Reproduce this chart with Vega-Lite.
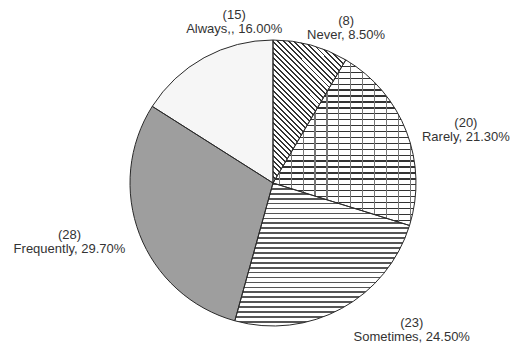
{
  "$schema": "https://vega.github.io/schema/vega-lite/v6.json",
  "width": 482,
  "height": 324,
  "autosize": "none",
  "padding": {"left": 32, "top": 21, "right": 0, "bottom": 0},
  "background": "white",
  "config": {"view": {"stroke": null}},
  "data": {
    "values": [
      {"answer": "Never", "n": 8, "pct": 8.5, "ord": 1},
      {"answer": "Rarely", "n": 20, "pct": 21.3, "ord": 2},
      {"answer": "Sometimes", "n": 23, "pct": 24.5, "ord": 3},
      {"answer": "Frequently", "n": 28, "pct": 29.7, "ord": 4},
      {"answer": "Always,", "n": 15, "pct": 16.0, "ord": 5}
    ]
  },
  "transform": [
    {"calculate": "'(' + datum.n + ')\\n' + datum.answer + ', ' + format(datum.pct, '.2f') + '%'", "as": "label"}
  ],
  "encoding": {
    "theta": {"field": "pct", "type": "quantitative", "stack": true},
    "order": {"field": "ord", "type": "quantitative"}
  },
  "layer": [
    {
      "mark": {"type": "arc", "outerRadius": 143, "strokeWidth": 0},
      "encoding": {
        "fill": {
          "field": "answer",
          "type": "nominal",
          "scale": {
            "domain": ["Never", "Rarely", "Sometimes", "Frequently", "Always,"],
            "range": ["#ffffff", "#ffffff", "#ffffff", "#9e9e9e", "#f6f6f6"]
          },
          "legend": null
        }
      }
    },
    {
      "mark": {"type": "arc", "outerRadius": 143, "strokeWidth": 0},
      "encoding": {
        "fill": {
          "condition": {
            "test": "datum.answer === 'Never'",
            "value": {
              "gradient": "linear", "x1": 0, "y1": 1, "x2": 0.611, "y2": -0.198,
              "stops": [
                {"offset": 0, "color": "#333"}, {"offset": 0.009, "color": "#333"}, {"offset": 0.009, "color": "#fff"}, {"offset": 0.025, "color": "#fff"},
                {"offset": 0.025, "color": "#333"}, {"offset": 0.034, "color": "#333"}, {"offset": 0.034, "color": "#fff"}, {"offset": 0.05, "color": "#fff"},
                {"offset": 0.05, "color": "#333"}, {"offset": 0.059, "color": "#333"}, {"offset": 0.059, "color": "#fff"}, {"offset": 0.075, "color": "#fff"},
                {"offset": 0.075, "color": "#333"}, {"offset": 0.084, "color": "#333"}, {"offset": 0.084, "color": "#fff"}, {"offset": 0.1, "color": "#fff"},
                {"offset": 0.1, "color": "#333"}, {"offset": 0.109, "color": "#333"}, {"offset": 0.109, "color": "#fff"}, {"offset": 0.125, "color": "#fff"},
                {"offset": 0.125, "color": "#333"}, {"offset": 0.134, "color": "#333"}, {"offset": 0.134, "color": "#fff"}, {"offset": 0.15, "color": "#fff"},
                {"offset": 0.15, "color": "#333"}, {"offset": 0.159, "color": "#333"}, {"offset": 0.159, "color": "#fff"}, {"offset": 0.175, "color": "#fff"},
                {"offset": 0.175, "color": "#333"}, {"offset": 0.184, "color": "#333"}, {"offset": 0.184, "color": "#fff"}, {"offset": 0.2, "color": "#fff"},
                {"offset": 0.2, "color": "#333"}, {"offset": 0.209, "color": "#333"}, {"offset": 0.209, "color": "#fff"}, {"offset": 0.225, "color": "#fff"},
                {"offset": 0.225, "color": "#333"}, {"offset": 0.234, "color": "#333"}, {"offset": 0.234, "color": "#fff"}, {"offset": 0.25, "color": "#fff"},
                {"offset": 0.25, "color": "#333"}, {"offset": 0.259, "color": "#333"}, {"offset": 0.259, "color": "#fff"}, {"offset": 0.275, "color": "#fff"},
                {"offset": 0.275, "color": "#333"}, {"offset": 0.284, "color": "#333"}, {"offset": 0.284, "color": "#fff"}, {"offset": 0.3, "color": "#fff"},
                {"offset": 0.3, "color": "#333"}, {"offset": 0.309, "color": "#333"}, {"offset": 0.309, "color": "#fff"}, {"offset": 0.325, "color": "#fff"},
                {"offset": 0.325, "color": "#333"}, {"offset": 0.334, "color": "#333"}, {"offset": 0.334, "color": "#fff"}, {"offset": 0.35, "color": "#fff"},
                {"offset": 0.35, "color": "#333"}, {"offset": 0.359, "color": "#333"}, {"offset": 0.359, "color": "#fff"}, {"offset": 0.375, "color": "#fff"},
                {"offset": 0.375, "color": "#333"}, {"offset": 0.384, "color": "#333"}, {"offset": 0.384, "color": "#fff"}, {"offset": 0.4, "color": "#fff"},
                {"offset": 0.4, "color": "#333"}, {"offset": 0.409, "color": "#333"}, {"offset": 0.409, "color": "#fff"}, {"offset": 0.425, "color": "#fff"},
                {"offset": 0.425, "color": "#333"}, {"offset": 0.434, "color": "#333"}, {"offset": 0.434, "color": "#fff"}, {"offset": 0.45, "color": "#fff"},
                {"offset": 0.45, "color": "#333"}, {"offset": 0.459, "color": "#333"}, {"offset": 0.459, "color": "#fff"}, {"offset": 0.475, "color": "#fff"},
                {"offset": 0.475, "color": "#333"}, {"offset": 0.484, "color": "#333"}, {"offset": 0.484, "color": "#fff"}, {"offset": 0.5, "color": "#fff"},
                {"offset": 0.5, "color": "#333"}, {"offset": 0.509, "color": "#333"}, {"offset": 0.509, "color": "#fff"}, {"offset": 0.525, "color": "#fff"},
                {"offset": 0.525, "color": "#333"}, {"offset": 0.534, "color": "#333"}, {"offset": 0.534, "color": "#fff"}, {"offset": 0.55, "color": "#fff"},
                {"offset": 0.55, "color": "#333"}, {"offset": 0.559, "color": "#333"}, {"offset": 0.559, "color": "#fff"}, {"offset": 0.575, "color": "#fff"},
                {"offset": 0.575, "color": "#333"}, {"offset": 0.584, "color": "#333"}, {"offset": 0.584, "color": "#fff"}, {"offset": 0.6, "color": "#fff"},
                {"offset": 0.6, "color": "#333"}, {"offset": 0.609, "color": "#333"}, {"offset": 0.609, "color": "#fff"}, {"offset": 0.625, "color": "#fff"},
                {"offset": 0.625, "color": "#333"}, {"offset": 0.634, "color": "#333"}, {"offset": 0.634, "color": "#fff"}, {"offset": 0.65, "color": "#fff"},
                {"offset": 0.65, "color": "#333"}, {"offset": 0.659, "color": "#333"}, {"offset": 0.659, "color": "#fff"}, {"offset": 0.675, "color": "#fff"},
                {"offset": 0.675, "color": "#333"}, {"offset": 0.684, "color": "#333"}, {"offset": 0.684, "color": "#fff"}, {"offset": 0.7, "color": "#fff"},
                {"offset": 0.7, "color": "#333"}, {"offset": 0.709, "color": "#333"}, {"offset": 0.709, "color": "#fff"}, {"offset": 0.725, "color": "#fff"},
                {"offset": 0.725, "color": "#333"}, {"offset": 0.734, "color": "#333"}, {"offset": 0.734, "color": "#fff"}, {"offset": 0.75, "color": "#fff"},
                {"offset": 0.75, "color": "#333"}, {"offset": 0.759, "color": "#333"}, {"offset": 0.759, "color": "#fff"}, {"offset": 0.775, "color": "#fff"},
                {"offset": 0.775, "color": "#333"}, {"offset": 0.784, "color": "#333"}, {"offset": 0.784, "color": "#fff"}, {"offset": 0.8, "color": "#fff"},
                {"offset": 0.8, "color": "#333"}, {"offset": 0.809, "color": "#333"}, {"offset": 0.809, "color": "#fff"}, {"offset": 0.825, "color": "#fff"},
                {"offset": 0.825, "color": "#333"}, {"offset": 0.834, "color": "#333"}, {"offset": 0.834, "color": "#fff"}, {"offset": 0.85, "color": "#fff"},
                {"offset": 0.85, "color": "#333"}, {"offset": 0.859, "color": "#333"}, {"offset": 0.859, "color": "#fff"}, {"offset": 0.875, "color": "#fff"},
                {"offset": 0.875, "color": "#333"}, {"offset": 0.884, "color": "#333"}, {"offset": 0.884, "color": "#fff"}, {"offset": 0.9, "color": "#fff"},
                {"offset": 0.9, "color": "#333"}, {"offset": 0.909, "color": "#333"}, {"offset": 0.909, "color": "#fff"}, {"offset": 0.925, "color": "#fff"},
                {"offset": 0.925, "color": "#333"}, {"offset": 0.934, "color": "#333"}, {"offset": 0.934, "color": "#fff"}, {"offset": 0.95, "color": "#fff"},
                {"offset": 0.95, "color": "#333"}, {"offset": 0.959, "color": "#333"}, {"offset": 0.959, "color": "#fff"}, {"offset": 0.975, "color": "#fff"},
                {"offset": 0.975, "color": "#333"}, {"offset": 0.984, "color": "#333"}, {"offset": 0.984, "color": "#fff"}, {"offset": 1, "color": "#fff"}
              ]
            }
          },
          "value": "transparent"
        }
      }
    },
    {
      "mark": {"type": "arc", "outerRadius": 143, "strokeWidth": 0},
      "encoding": {
        "fill": {
          "condition": {
            "test": "datum.answer === 'Rarely'",
            "value": {
              "gradient": "linear", "x1": 0, "y1": 0, "x2": 0, "y2": 1,
              "stops": [
                {"offset": 0, "color": "#333"}, {"offset": 0.008, "color": "#333"}, {"offset": 0.008, "color": "#fff"}, {"offset": 0.0357, "color": "#fff"},
                {"offset": 0.0357, "color": "#333"}, {"offset": 0.0437, "color": "#333"}, {"offset": 0.0437, "color": "#fff"}, {"offset": 0.0714, "color": "#fff"},
                {"offset": 0.0714, "color": "#333"}, {"offset": 0.0794, "color": "#333"}, {"offset": 0.0794, "color": "#fff"}, {"offset": 0.1071, "color": "#fff"},
                {"offset": 0.1071, "color": "#333"}, {"offset": 0.1151, "color": "#333"}, {"offset": 0.1151, "color": "#fff"}, {"offset": 0.1429, "color": "#fff"},
                {"offset": 0.1429, "color": "#333"}, {"offset": 0.1509, "color": "#333"}, {"offset": 0.1509, "color": "#fff"}, {"offset": 0.1786, "color": "#fff"},
                {"offset": 0.1786, "color": "#333"}, {"offset": 0.1866, "color": "#333"}, {"offset": 0.1866, "color": "#fff"}, {"offset": 0.2143, "color": "#fff"},
                {"offset": 0.2143, "color": "#333"}, {"offset": 0.2223, "color": "#333"}, {"offset": 0.2223, "color": "#fff"}, {"offset": 0.25, "color": "#fff"},
                {"offset": 0.25, "color": "#333"}, {"offset": 0.258, "color": "#333"}, {"offset": 0.258, "color": "#fff"}, {"offset": 0.2857, "color": "#fff"},
                {"offset": 0.2857, "color": "#333"}, {"offset": 0.2937, "color": "#333"}, {"offset": 0.2937, "color": "#fff"}, {"offset": 0.3214, "color": "#fff"},
                {"offset": 0.3214, "color": "#333"}, {"offset": 0.3294, "color": "#333"}, {"offset": 0.3294, "color": "#fff"}, {"offset": 0.3571, "color": "#fff"},
                {"offset": 0.3571, "color": "#333"}, {"offset": 0.3651, "color": "#333"}, {"offset": 0.3651, "color": "#fff"}, {"offset": 0.3929, "color": "#fff"},
                {"offset": 0.3929, "color": "#333"}, {"offset": 0.4009, "color": "#333"}, {"offset": 0.4009, "color": "#fff"}, {"offset": 0.4286, "color": "#fff"},
                {"offset": 0.4286, "color": "#333"}, {"offset": 0.4366, "color": "#333"}, {"offset": 0.4366, "color": "#fff"}, {"offset": 0.4643, "color": "#fff"},
                {"offset": 0.4643, "color": "#333"}, {"offset": 0.4723, "color": "#333"}, {"offset": 0.4723, "color": "#fff"}, {"offset": 0.5, "color": "#fff"},
                {"offset": 0.5, "color": "#333"}, {"offset": 0.508, "color": "#333"}, {"offset": 0.508, "color": "#fff"}, {"offset": 0.5357, "color": "#fff"},
                {"offset": 0.5357, "color": "#333"}, {"offset": 0.5437, "color": "#333"}, {"offset": 0.5437, "color": "#fff"}, {"offset": 0.5714, "color": "#fff"},
                {"offset": 0.5714, "color": "#333"}, {"offset": 0.5794, "color": "#333"}, {"offset": 0.5794, "color": "#fff"}, {"offset": 0.6071, "color": "#fff"},
                {"offset": 0.6071, "color": "#333"}, {"offset": 0.6151, "color": "#333"}, {"offset": 0.6151, "color": "#fff"}, {"offset": 0.6429, "color": "#fff"},
                {"offset": 0.6429, "color": "#333"}, {"offset": 0.6509, "color": "#333"}, {"offset": 0.6509, "color": "#fff"}, {"offset": 0.6786, "color": "#fff"},
                {"offset": 0.6786, "color": "#333"}, {"offset": 0.6866, "color": "#333"}, {"offset": 0.6866, "color": "#fff"}, {"offset": 0.7143, "color": "#fff"},
                {"offset": 0.7143, "color": "#333"}, {"offset": 0.7223, "color": "#333"}, {"offset": 0.7223, "color": "#fff"}, {"offset": 0.75, "color": "#fff"},
                {"offset": 0.75, "color": "#333"}, {"offset": 0.758, "color": "#333"}, {"offset": 0.758, "color": "#fff"}, {"offset": 0.7857, "color": "#fff"},
                {"offset": 0.7857, "color": "#333"}, {"offset": 0.7937, "color": "#333"}, {"offset": 0.7937, "color": "#fff"}, {"offset": 0.8214, "color": "#fff"},
                {"offset": 0.8214, "color": "#333"}, {"offset": 0.8294, "color": "#333"}, {"offset": 0.8294, "color": "#fff"}, {"offset": 0.8571, "color": "#fff"},
                {"offset": 0.8571, "color": "#333"}, {"offset": 0.8651, "color": "#333"}, {"offset": 0.8651, "color": "#fff"}, {"offset": 0.8929, "color": "#fff"},
                {"offset": 0.8929, "color": "#333"}, {"offset": 0.9009, "color": "#333"}, {"offset": 0.9009, "color": "#fff"}, {"offset": 0.9286, "color": "#fff"},
                {"offset": 0.9286, "color": "#333"}, {"offset": 0.9366, "color": "#333"}, {"offset": 0.9366, "color": "#fff"}, {"offset": 0.9643, "color": "#fff"},
                {"offset": 0.9643, "color": "#333"}, {"offset": 0.9723, "color": "#333"}, {"offset": 0.9723, "color": "#fff"}, {"offset": 1, "color": "#fff"}
              ]
            }
          },
          "value": "transparent"
        }
      }
    },
    {
      "mark": {"type": "arc", "outerRadius": 143, "strokeWidth": 0},
      "encoding": {
        "fill": {
          "condition": {
            "test": "datum.answer === 'Rarely'",
            "value": {
              "gradient": "linear", "x1": 0, "y1": 0, "x2": 1, "y2": 0,
              "stops": [
                {"offset": 0, "color": "rgba(0,0,0,0)"},
                {"offset": 0.04, "color": "rgba(0,0,0,0)"}, {"offset": 0.04, "color": "#777"}, {"offset": 0.048, "color": "#777"}, {"offset": 0.048, "color": "rgba(0,0,0,0)"},
                {"offset": 0.1233, "color": "rgba(0,0,0,0)"}, {"offset": 0.1233, "color": "#777"}, {"offset": 0.1313, "color": "#777"}, {"offset": 0.1313, "color": "rgba(0,0,0,0)"},
                {"offset": 0.2067, "color": "rgba(0,0,0,0)"}, {"offset": 0.2067, "color": "#777"}, {"offset": 0.2147, "color": "#777"}, {"offset": 0.2147, "color": "rgba(0,0,0,0)"},
                {"offset": 0.29, "color": "rgba(0,0,0,0)"}, {"offset": 0.29, "color": "#777"}, {"offset": 0.298, "color": "#777"}, {"offset": 0.298, "color": "rgba(0,0,0,0)"},
                {"offset": 0.3733, "color": "rgba(0,0,0,0)"}, {"offset": 0.3733, "color": "#777"}, {"offset": 0.3813, "color": "#777"}, {"offset": 0.3813, "color": "rgba(0,0,0,0)"},
                {"offset": 0.4567, "color": "rgba(0,0,0,0)"}, {"offset": 0.4567, "color": "#777"}, {"offset": 0.4647, "color": "#777"}, {"offset": 0.4647, "color": "rgba(0,0,0,0)"},
                {"offset": 0.54, "color": "rgba(0,0,0,0)"}, {"offset": 0.54, "color": "#777"}, {"offset": 0.548, "color": "#777"}, {"offset": 0.548, "color": "rgba(0,0,0,0)"},
                {"offset": 0.6233, "color": "rgba(0,0,0,0)"}, {"offset": 0.6233, "color": "#777"}, {"offset": 0.6313, "color": "#777"}, {"offset": 0.6313, "color": "rgba(0,0,0,0)"},
                {"offset": 0.7067, "color": "rgba(0,0,0,0)"}, {"offset": 0.7067, "color": "#777"}, {"offset": 0.7147, "color": "#777"}, {"offset": 0.7147, "color": "rgba(0,0,0,0)"},
                {"offset": 0.79, "color": "rgba(0,0,0,0)"}, {"offset": 0.79, "color": "#777"}, {"offset": 0.798, "color": "#777"}, {"offset": 0.798, "color": "rgba(0,0,0,0)"},
                {"offset": 0.8733, "color": "rgba(0,0,0,0)"}, {"offset": 0.8733, "color": "#777"}, {"offset": 0.8813, "color": "#777"}, {"offset": 0.8813, "color": "rgba(0,0,0,0)"},
                {"offset": 0.9567, "color": "rgba(0,0,0,0)"}, {"offset": 0.9567, "color": "#777"}, {"offset": 0.9647, "color": "#777"}, {"offset": 0.9647, "color": "rgba(0,0,0,0)"},
                {"offset": 1, "color": "rgba(0,0,0,0)"}
              ]
            }
          },
          "value": "transparent"
        }
      }
    },
    {
      "mark": {"type": "arc", "outerRadius": 143, "strokeWidth": 0},
      "encoding": {
        "fill": {
          "condition": {
            "test": "datum.answer === 'Sometimes'",
            "value": {
              "gradient": "linear", "x1": 0, "y1": 0, "x2": 0, "y2": 1,
              "stops": [
                {"offset": 0, "color": "#555"}, {"offset": 0.012, "color": "#555"}, {"offset": 0.012, "color": "#fff"}, {"offset": 0.0345, "color": "#fff"},
                {"offset": 0.0345, "color": "#555"}, {"offset": 0.0465, "color": "#555"}, {"offset": 0.0465, "color": "#fff"}, {"offset": 0.069, "color": "#fff"},
                {"offset": 0.069, "color": "#555"}, {"offset": 0.081, "color": "#555"}, {"offset": 0.081, "color": "#fff"}, {"offset": 0.1034, "color": "#fff"},
                {"offset": 0.1034, "color": "#555"}, {"offset": 0.1154, "color": "#555"}, {"offset": 0.1154, "color": "#fff"}, {"offset": 0.1379, "color": "#fff"},
                {"offset": 0.1379, "color": "#555"}, {"offset": 0.1499, "color": "#555"}, {"offset": 0.1499, "color": "#fff"}, {"offset": 0.1724, "color": "#fff"},
                {"offset": 0.1724, "color": "#555"}, {"offset": 0.1844, "color": "#555"}, {"offset": 0.1844, "color": "#fff"}, {"offset": 0.2069, "color": "#fff"},
                {"offset": 0.2069, "color": "#555"}, {"offset": 0.2189, "color": "#555"}, {"offset": 0.2189, "color": "#fff"}, {"offset": 0.2414, "color": "#fff"},
                {"offset": 0.2414, "color": "#555"}, {"offset": 0.2534, "color": "#555"}, {"offset": 0.2534, "color": "#fff"}, {"offset": 0.2759, "color": "#fff"},
                {"offset": 0.2759, "color": "#555"}, {"offset": 0.2879, "color": "#555"}, {"offset": 0.2879, "color": "#fff"}, {"offset": 0.3103, "color": "#fff"},
                {"offset": 0.3103, "color": "#555"}, {"offset": 0.3223, "color": "#555"}, {"offset": 0.3223, "color": "#fff"}, {"offset": 0.3448, "color": "#fff"},
                {"offset": 0.3448, "color": "#555"}, {"offset": 0.3568, "color": "#555"}, {"offset": 0.3568, "color": "#fff"}, {"offset": 0.3793, "color": "#fff"},
                {"offset": 0.3793, "color": "#555"}, {"offset": 0.3913, "color": "#555"}, {"offset": 0.3913, "color": "#fff"}, {"offset": 0.4138, "color": "#fff"},
                {"offset": 0.4138, "color": "#555"}, {"offset": 0.4258, "color": "#555"}, {"offset": 0.4258, "color": "#fff"}, {"offset": 0.4483, "color": "#fff"},
                {"offset": 0.4483, "color": "#555"}, {"offset": 0.4603, "color": "#555"}, {"offset": 0.4603, "color": "#fff"}, {"offset": 0.4828, "color": "#fff"},
                {"offset": 0.4828, "color": "#555"}, {"offset": 0.4948, "color": "#555"}, {"offset": 0.4948, "color": "#fff"}, {"offset": 0.5172, "color": "#fff"},
                {"offset": 0.5172, "color": "#555"}, {"offset": 0.5292, "color": "#555"}, {"offset": 0.5292, "color": "#fff"}, {"offset": 0.5517, "color": "#fff"},
                {"offset": 0.5517, "color": "#555"}, {"offset": 0.5637, "color": "#555"}, {"offset": 0.5637, "color": "#fff"}, {"offset": 0.5862, "color": "#fff"},
                {"offset": 0.5862, "color": "#555"}, {"offset": 0.5982, "color": "#555"}, {"offset": 0.5982, "color": "#fff"}, {"offset": 0.6207, "color": "#fff"},
                {"offset": 0.6207, "color": "#555"}, {"offset": 0.6327, "color": "#555"}, {"offset": 0.6327, "color": "#fff"}, {"offset": 0.6552, "color": "#fff"},
                {"offset": 0.6552, "color": "#555"}, {"offset": 0.6672, "color": "#555"}, {"offset": 0.6672, "color": "#fff"}, {"offset": 0.6897, "color": "#fff"},
                {"offset": 0.6897, "color": "#555"}, {"offset": 0.7017, "color": "#555"}, {"offset": 0.7017, "color": "#fff"}, {"offset": 0.7241, "color": "#fff"},
                {"offset": 0.7241, "color": "#555"}, {"offset": 0.7361, "color": "#555"}, {"offset": 0.7361, "color": "#fff"}, {"offset": 0.7586, "color": "#fff"},
                {"offset": 0.7586, "color": "#555"}, {"offset": 0.7706, "color": "#555"}, {"offset": 0.7706, "color": "#fff"}, {"offset": 0.7931, "color": "#fff"},
                {"offset": 0.7931, "color": "#555"}, {"offset": 0.8051, "color": "#555"}, {"offset": 0.8051, "color": "#fff"}, {"offset": 0.8276, "color": "#fff"},
                {"offset": 0.8276, "color": "#555"}, {"offset": 0.8396, "color": "#555"}, {"offset": 0.8396, "color": "#fff"}, {"offset": 0.8621, "color": "#fff"},
                {"offset": 0.8621, "color": "#555"}, {"offset": 0.8741, "color": "#555"}, {"offset": 0.8741, "color": "#fff"}, {"offset": 0.8966, "color": "#fff"},
                {"offset": 0.8966, "color": "#555"}, {"offset": 0.9086, "color": "#555"}, {"offset": 0.9086, "color": "#fff"}, {"offset": 0.931, "color": "#fff"},
                {"offset": 0.931, "color": "#555"}, {"offset": 0.943, "color": "#555"}, {"offset": 0.943, "color": "#fff"}, {"offset": 0.9655, "color": "#fff"},
                {"offset": 0.9655, "color": "#555"}, {"offset": 0.9775, "color": "#555"}, {"offset": 0.9775, "color": "#fff"}, {"offset": 1, "color": "#fff"}
              ]
            }
          },
          "value": "transparent"
        }
      }
    },
    {
      "mark": {"type": "arc", "outerRadius": 143, "filled": false, "stroke": "#2a2a2a", "strokeWidth": 1}
    },
    {
      "mark": {"type": "text", "radius": 178, "thetaOffset": 0.156, "lineBreak": "\n", "lineHeight": 14, "font": "Liberation Sans", "fontSize": 13, "fill": "#333", "align": "center", "baseline": "middle"},
      "encoding": {"text": {"condition": {"test": "datum.answer === 'Never'", "field": "label"}, "value": ""}}
    },
    {
      "mark": {"type": "text", "radius": 202, "thetaOffset": 0.066, "lineBreak": "\n", "lineHeight": 14, "font": "Liberation Sans", "fontSize": 13, "fill": "#333", "align": "center", "baseline": "middle"},
      "encoding": {"text": {"condition": {"test": "datum.answer === 'Rarely'", "field": "label"}, "value": ""}}
    },
    {
      "mark": {"type": "text", "radius": 197, "thetaOffset": -0.282, "lineBreak": "\n", "lineHeight": 14, "font": "Liberation Sans", "fontSize": 13, "fill": "#333", "align": "center", "baseline": "middle"},
      "encoding": {"text": {"condition": {"test": "datum.answer === 'Sometimes'", "field": "label"}, "value": ""}}
    },
    {
      "mark": {"type": "text", "radius": 210, "thetaOffset": 0.118, "lineBreak": "\n", "lineHeight": 14, "font": "Liberation Sans", "fontSize": 13, "fill": "#333", "align": "center", "baseline": "middle"},
      "encoding": {"text": {"condition": {"test": "datum.answer === 'Frequently'", "field": "label"}, "value": ""}}
    },
    {
      "mark": {"type": "text", "radius": 172, "thetaOffset": 0.275, "lineBreak": "\n", "lineHeight": 14, "font": "Liberation Sans", "fontSize": 13, "fill": "#333", "align": "center", "baseline": "middle"},
      "encoding": {"text": {"condition": {"test": "datum.answer === 'Always,'", "field": "label"}, "value": ""}}
    }
  ]
}
